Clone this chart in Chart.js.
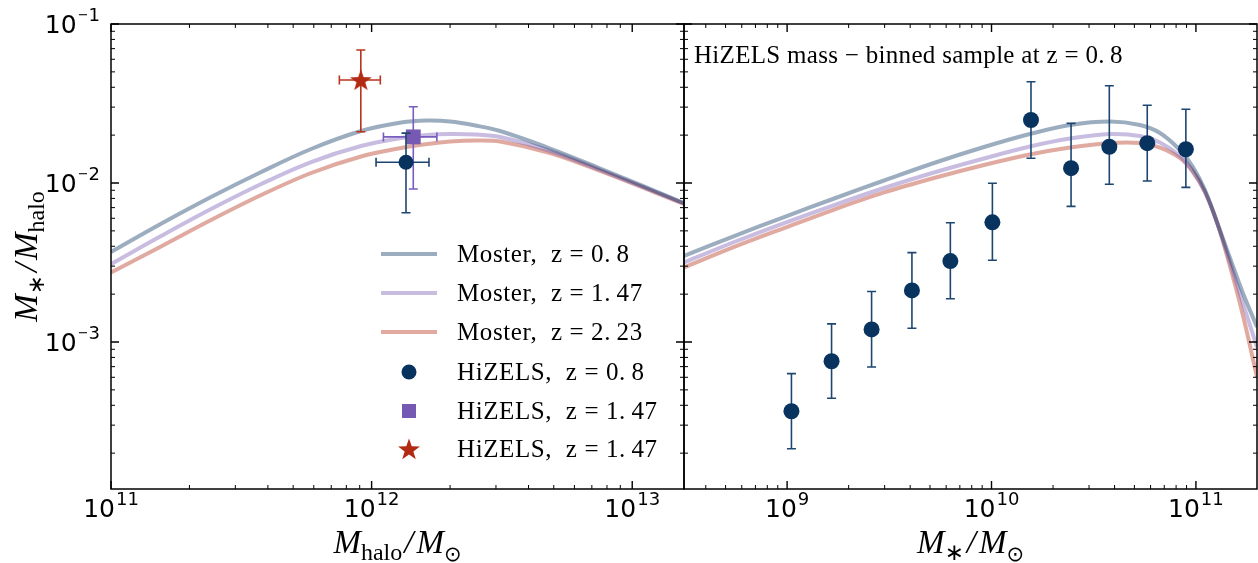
<!DOCTYPE html>
<html>
<head>
<meta charset="utf-8">
<script src="https://cdn.jsdelivr.net/npm/chart.js@4.4.0/dist/chart.umd.min.js"></script>
<style>
  body { margin: 0; background: #fff; }
  #wrap { position: relative; width: 1258px; height: 563px; }
  #left_chart { position: absolute; left: 0; top: 0; width: 690px; height: 563px; }
  #right_chart { position: absolute; left: 678px; top: 0; width: 580px; height: 563px; }
</style>
</head>
<body>
<div id="wrap">
  <canvas id="left_chart" width="690" height="563"></canvas>
  <canvas id="right_chart" width="580" height="563"></canvas>
</div>
<script>
// ---- data ----
// left panel: Moster relations against halo mass
const halo_mass = [1e11, 1.556e11, 2.42e11, 3.77e11, 5.86e11, 9.11e11, 1.298e12, 1.634e12, 2.0e12, 2.5e12, 3.11e12, 4.84e12, 7.54e12, 1.58e13];
const moster_halo_08 = [3.68e-3, 5.54e-3, 8.16e-3, 1.173e-2, 1.636e-2, 2.123e-2, 2.402e-2, 2.469e-2, 2.436e-2, 2.30e-2, 2.123e-2, 1.648e-2, 1.234e-2, 7.48e-3];
const moster_halo_147 = [3.09e-3, 4.64e-3, 6.86e-3, 9.86e-3, 1.355e-2, 1.709e-2, 1.919e-2, 2.004e-2, 2.033e-2, 2.018e-2, 1.947e-2, 1.59e-2, 1.207e-2, 7.43e-3];
const moster_halo_223 = [2.735e-3, 3.99e-3, 5.85e-3, 8.40e-3, 1.156e-2, 1.468e-2, 1.66e-2, 1.759e-2, 1.824e-2, 1.851e-2, 1.824e-2, 1.544e-2, 1.19e-2, 7.38e-3];

// left panel: HiZELS clustering points (circle z=0.8, square z=1.47, star z=1.47)
const hizels_halo_x = [1.355e12, 1.445e12, 9.09e11];
const hizels_halo_xlo = [1.04e12, 1.11e12, 7.52e11];
const hizels_halo_xhi = [1.66e12, 1.78e12, 1.08e12];
const hizels_halo_y = [1.35e-2, 1.95e-2, 4.44e-2];
const hizels_halo_ylo = [6.50e-3, 9.17e-3, 2.10e-2];
const hizels_halo_yhi = [2.06e-2, 3.02e-2, 6.86e-2];

// right panel: Moster relations against stellar mass
const stellar_mass = [3.13e8, 5.51e8, 9.67e8, 1.70e9, 2.98e9, 5.23e9, 9.19e9, 1.54e10, 2.42e10, 3.80e10, 5.32e10, 6.67e10, 8.35e10, 9.67e10, 1.107e11, 1.267e11, 1.467e11, 1.697e11, 1.99e11];
const moster_star_08 = [3.475e-3, 4.64e-3, 6.11e-3, 7.99e-3, 1.037e-2, 1.336e-2, 1.684e-2, 2.033e-2, 2.317e-2, 2.436e-2, 2.317e-2, 2.064e-2, 1.613e-2, 1.261e-2, 9.04e-3, 5.68e-3, 3.38e-3, 2.033e-3, 1.243e-3];
const moster_star_147 = [3.162e-3, 4.255e-3, 5.60e-3, 7.27e-3, 9.30e-3, 1.164e-2, 1.426e-2, 1.697e-2, 1.905e-2, 2.033e-2, 1.975e-2, 1.798e-2, 1.478e-2, 1.19e-2, 8.78e-3, 5.68e-3, 3.185e-3, 1.759e-3, 9.30e-4];
const moster_star_223 = [2.941e-3, 3.96e-3, 5.21e-3, 6.81e-3, 8.72e-3, 1.075e-2, 1.298e-2, 1.511e-2, 1.672e-2, 1.785e-2, 1.785e-2, 1.672e-2, 1.436e-2, 1.173e-2, 8.78e-3, 5.68e-3, 3.006e-3, 1.478e-3, 6.02e-4];

// right panel: HiZELS mass-binned sample at z = 0.8
const binned_mass = [1.05e9, 1.65e9, 2.59e9, 4.08e9, 6.29e9, 1.01e10, 1.56e10, 2.45e10, 3.77e10, 5.78e10, 8.93e10];
const binned_ratio = [3.67e-4, 7.57e-4, 1.20e-3, 2.11e-3, 3.23e-3, 5.66e-3, 2.49e-2, 1.24e-2, 1.69e-2, 1.78e-2, 1.63e-2];
const binned_lo = [2.13e-4, 4.43e-4, 6.97e-4, 1.22e-3, 1.87e-3, 3.27e-3, 1.43e-2, 7.13e-3, 9.82e-3, 1.03e-2, 9.39e-3];
const binned_hi = [6.33e-4, 1.30e-3, 2.08e-3, 3.65e-3, 5.62e-3, 9.96e-3, 4.33e-2, 2.37e-2, 4.09e-2, 3.08e-2, 2.91e-2];

const series_labels = ["Moster,  z = 0.\u20098", "Moster,  z = 1.\u200947", "Moster,  z = 2.\u200923",
  "HiZELS,  z = 0.\u20098", "HiZELS,  z = 1.\u200947", "HiZELS,  z = 1.\u200947"];
const note_text = "HiZELS mass \u2212 binned sample at z = 0.\u20098";

const y_min = 1.19e-4, y_max = 0.1;

// ---- colours ----
const navy = "#08335f", purple = "#7659b3", red = "#b22a12";
const line_cols = ["rgba(8, 51, 95, 0.4)", "rgba(118, 89, 179, 0.4)", "rgba(178, 42, 18, 0.4)"];
const err_cols = ["#1d4670", "#7a5cbf", "#b8341c"];

const serif = '"Liberation Serif", serif';
const sans = '"DejaVu Sans", sans-serif';

function pts(xs, ys) {
  return xs.map((x, i) => ({ x: x, y: ys[i] }));
}

function star_path(ctx, cx, cy, R) {
  ctx.beginPath();
  for (let i = 0; i < 10; i++) {
    const r = i % 2 === 0 ? R : R * 0.4;
    const a = -Math.PI / 2 + i * Math.PI / 5;
    const px = cx + r * Math.cos(a), py = cy + r * Math.sin(a);
    if (i === 0) ctx.moveTo(px, py); else ctx.lineTo(px, py);
  }
  ctx.closePath();
}

const star_img = document.createElement("canvas");
star_img.width = 24; star_img.height = 24;
(function () {
  const c = star_img.getContext("2d");
  c.fillStyle = red;
  star_path(c, 12, 12.8, 11.5);
  c.fill();
})();

function moster_line(data, col) {
  return {
    data: data, showLine: true, pointRadius: 0, borderColor: col, backgroundColor: col,
    borderWidth: 4, tension: 0.35, order: 2,
  };
}

function log_ticks(min, max) {
  const out = [];
  for (let e = Math.floor(Math.log10(min)); e <= Math.ceil(Math.log10(max)); e++) {
    for (let k = 1; k < 10; k++) {
      const v = k * Math.pow(10, e);
      if (v >= min * 0.999 && v <= max * 1.001) out.push({ v: v, e: e, major: k === 1 });
    }
  }
  return out;
}

// "10" with a raised exponent; the minus is drawn smaller like mathtext does
function draw_pow(ctx, exp, x, y, align) {
  const minus = exp < 0 ? "\u2212" : "";
  const digits = String(Math.abs(exp));
  ctx.font = "25px " + sans;
  const wb = ctx.measureText("10").width;
  ctx.font = "13px " + sans;
  const wm = minus ? ctx.measureText(minus).width : 0;
  ctx.font = "18px " + sans;
  const wd = ctx.measureText(digits).width;
  const total = wb + 1 + wm + wd;
  const x0 = align === "center" ? x - total / 2 : x - total;
  ctx.fillStyle = "#000";
  ctx.textAlign = "left";
  ctx.textBaseline = "alphabetic";
  ctx.font = "25px " + sans;
  ctx.fillText("10", x0, y);
  if (minus) {
    ctx.font = "13px " + sans;
    ctx.fillText(minus, x0 + wb + 1, y - 14);
  }
  ctx.font = "18px " + sans;
  ctx.fillText(digits, x0 + wb + 1 + wm, y - 12);
}

function draw_rich(ctx, parts, x, y) {
  let w = 0;
  parts.forEach((p) => { ctx.font = p.font; p.w = ctx.measureText(p.t).width; w += p.w + (p.gap || 0); });
  let cx = x - w / 2;
  ctx.fillStyle = "#000";
  ctx.textAlign = "left";
  ctx.textBaseline = "alphabetic";
  parts.forEach((p) => {
    ctx.font = p.font;
    ctx.fillText(p.t, cx, y + (p.dy || 0));
    cx += p.w + (p.gap || 0);
  });
}

const err_plugin = {
  id: "errbars",
  beforeDatasetDraw(chart, args) {
    const ds = chart.data.datasets[args.index];
    if (!ds.err) return;
    const e = ds.err, ctx = chart.ctx;
    const xs = chart.scales.x, ys = chart.scales.y;
    ctx.save();
    ctx.strokeStyle = e.color;
    ctx.lineWidth = 1.6;
    e.x.forEach((xv, i) => {
      const px = xs.getPixelForValue(xv);
      const y1 = ys.getPixelForValue(e.ylo[i]), y2 = ys.getPixelForValue(e.yhi[i]);
      ctx.beginPath();
      ctx.moveTo(px, y1); ctx.lineTo(px, y2);
      ctx.moveTo(px - 4.5, y1); ctx.lineTo(px + 4.5, y1);
      ctx.moveTo(px - 4.5, y2); ctx.lineTo(px + 4.5, y2);
      if (e.xlo) {
        const py = ys.getPixelForValue(e.y[i]);
        const x1 = xs.getPixelForValue(e.xlo[i]), x2 = xs.getPixelForValue(e.xhi[i]);
        ctx.moveTo(x1, py); ctx.lineTo(x2, py);
        ctx.moveTo(x1, py - 4.5); ctx.lineTo(x1, py + 4.5);
        ctx.moveTo(x2, py - 4.5); ctx.lineTo(x2, py + 4.5);
      }
      ctx.stroke();
    });
    ctx.restore();
  },
};

function frame_plugin(id, y_labels, extra) {
  return {
    id: id,
    afterDraw(chart) {
      const ctx = chart.ctx, a = chart.chartArea;
      const xs = chart.scales.x, ys = chart.scales.y;
      ctx.save();
      ctx.strokeStyle = "#000";
      log_ticks(xs.min, xs.max).forEach((t) => {
        const px = xs.getPixelForValue(t.v), len = t.major ? 8 : 4;
        ctx.lineWidth = t.major ? 1.4 : 1;
        ctx.beginPath();
        ctx.moveTo(px, a.bottom); ctx.lineTo(px, a.bottom - len);
        ctx.moveTo(px, a.top); ctx.lineTo(px, a.top + len);
        ctx.stroke();
        if (t.major) draw_pow(ctx, t.e, px, a.bottom + 28, "center");
      });
      log_ticks(ys.min, ys.max).forEach((t) => {
        const py = ys.getPixelForValue(t.v), len = t.major ? 8 : 4;
        ctx.lineWidth = t.major ? 1.4 : 1;
        ctx.beginPath();
        ctx.moveTo(a.left, py); ctx.lineTo(a.left + len, py);
        ctx.moveTo(a.right, py); ctx.lineTo(a.right - len, py);
        ctx.stroke();
        if (t.major && y_labels) draw_pow(ctx, t.e, a.left - 11, py + 9, "right");
      });
      ctx.lineWidth = 1.5;
      ctx.strokeRect(a.left, a.top, a.right - a.left, a.bottom - a.top);
      extra(chart, ctx, a);
      ctx.restore();
    },
  };
}

function base_options(xmin, xmax, y_width, pad) {
  return {
    responsive: false,
    animation: false,
    layout: { padding: pad, autoPadding: false },
    plugins: { legend: { display: false }, tooltip: { enabled: false } },
    scales: {
      x: {
        type: "logarithmic", min: xmin, max: xmax,
        ticks: { display: false }, grid: { display: false }, border: { display: false },
        afterFit: (s) => { s.height = 74; },
      },
      y: {
        type: "logarithmic", min: y_min, max: y_max,
        ticks: { display: false }, grid: { display: false }, border: { display: false },
        afterFit: (s) => { s.width = y_width; },
      },
    },
  };
}

// ---- left panel ----
const left_extra = (chart, ctx, a) => {
  const cx = (a.left + a.right) / 2;
  draw_rich(ctx, [
    { t: "M", font: "italic 33px " + serif },
    { t: "halo", font: "24px " + serif, dy: 7, gap: 2 },
    { t: "/", font: "italic 33px " + serif, gap: 3 },
    { t: "M", font: "italic 33px " + serif },
    { t: "\u2299", font: "21px " + sans, dy: 8 },
  ], cx, 553);

  ctx.save();
  ctx.translate(37, (a.top + a.bottom) / 2);
  ctx.rotate(-Math.PI / 2);
  draw_rich(ctx, [
    { t: "M", font: "italic 33px " + serif },
    { t: "\u2217", font: "23px " + sans, dy: 7, gap: 3 },
    { t: "/", font: "italic 33px " + serif, gap: 3 },
    { t: "M", font: "italic 33px " + serif },
    { t: "halo", font: "24px " + serif, dy: 7 },
  ], 0, 0);
  ctx.restore();

  // legend
  const lx = 381, tx = 457, ys = [254, 293, 332, 372, 411, 449];
  ctx.lineWidth = 4;
  for (let i = 0; i < 3; i++) {
    ctx.strokeStyle = line_cols[i];
    ctx.beginPath();
    ctx.moveTo(lx, ys[i]); ctx.lineTo(lx + 56, ys[i]);
    ctx.stroke();
  }
  ctx.fillStyle = navy;
  ctx.beginPath(); ctx.arc(409, ys[3], 7.5, 0, Math.PI * 2); ctx.fill();
  ctx.fillStyle = purple;
  ctx.fillRect(402, ys[4] - 7, 14, 14);
  ctx.fillStyle = red;
  star_path(ctx, 409, ys[5] + 1, 11.5); ctx.fill();
  ctx.fillStyle = "#000";
  ctx.font = "25px " + serif;
  ctx.letterSpacing = "0.6px";
  ctx.textAlign = "left";
  ctx.textBaseline = "alphabetic";
  series_labels.forEach((s, i) => ctx.fillText(s, tx, ys[i] + 8));
  ctx.letterSpacing = "0px";
};

new Chart(document.getElementById("left_chart"), {
  type: "scatter",
  data: {
    datasets: [
      {
        data: [{ x: hizels_halo_x[0], y: hizels_halo_y[0] }], pointStyle: "circle", pointRadius: 7.5,
        backgroundColor: navy, borderWidth: 0, order: 1,
        err: { x: [hizels_halo_x[0]], y: [hizels_halo_y[0]], ylo: [hizels_halo_ylo[0]], yhi: [hizels_halo_yhi[0]],
          xlo: [hizels_halo_xlo[0]], xhi: [hizels_halo_xhi[0]], color: err_cols[0] },
      },
      {
        data: [{ x: hizels_halo_x[1], y: hizels_halo_y[1] }], pointStyle: "rect", pointRadius: 10.5,
        backgroundColor: purple, borderWidth: 0, order: 1,
        err: { x: [hizels_halo_x[1]], y: [hizels_halo_y[1]], ylo: [hizels_halo_ylo[1]], yhi: [hizels_halo_yhi[1]],
          xlo: [hizels_halo_xlo[1]], xhi: [hizels_halo_xhi[1]], color: err_cols[1] },
      },
      {
        data: [{ x: hizels_halo_x[2], y: hizels_halo_y[2] }], pointStyle: star_img, pointRadius: 12,
        backgroundColor: red, borderWidth: 0, order: 1,
        err: { x: [hizels_halo_x[2]], y: [hizels_halo_y[2]], ylo: [hizels_halo_ylo[2]], yhi: [hizels_halo_yhi[2]],
          xlo: [hizels_halo_xlo[2]], xhi: [hizels_halo_xhi[2]], color: err_cols[2] },
      },
      moster_line(pts(halo_mass, moster_halo_08), line_cols[0]),
      moster_line(pts(halo_mass, moster_halo_147), line_cols[1]),
      moster_line(pts(halo_mass, moster_halo_223), line_cols[2]),
    ],
  },
  options: base_options(1e11, 1.58e13, 111, { left: 0, right: 6, top: 24, bottom: 0 }),
  plugins: [err_plugin, frame_plugin("left_frame", true, left_extra)],
});

// ---- right panel ----
const right_extra = (chart, ctx, a) => {
  draw_rich(ctx, [
    { t: "M", font: "italic 33px " + serif },
    { t: "\u2217", font: "23px " + sans, dy: 7, gap: 3 },
    { t: "/", font: "italic 33px " + serif, gap: 3 },
    { t: "M", font: "italic 33px " + serif },
    { t: "\u2299", font: "21px " + sans, dy: 8 },
  ], (a.left + a.right) / 2, 553);
  ctx.fillStyle = "#000";
  ctx.font = "25px " + serif;
  ctx.letterSpacing = "0.3px";
  ctx.textAlign = "left";
  ctx.textBaseline = "alphabetic";
  ctx.fillText(note_text, a.left + 10, 63);
  ctx.letterSpacing = "0px";
};

new Chart(document.getElementById("right_chart"), {
  type: "scatter",
  data: {
    datasets: [
      {
        data: pts(binned_mass, binned_ratio), pointStyle: "circle", pointRadius: 8,
        backgroundColor: navy, borderWidth: 0, order: 1,
        err: { x: binned_mass, y: binned_ratio, ylo: binned_lo, yhi: binned_hi, color: err_cols[0] },
      },
      moster_line(pts(stellar_mass, moster_star_08), line_cols[0]),
      moster_line(pts(stellar_mass, moster_star_147), line_cols[1]),
      moster_line(pts(stellar_mass, moster_star_223), line_cols[2]),
    ],
  },
  options: base_options(3.13e8, 1.99e11, 0, { left: 6, right: 1, top: 24, bottom: 0 }),
  plugins: [err_plugin, frame_plugin("right_frame", false, right_extra)],
});
</script>
</body>
</html>
